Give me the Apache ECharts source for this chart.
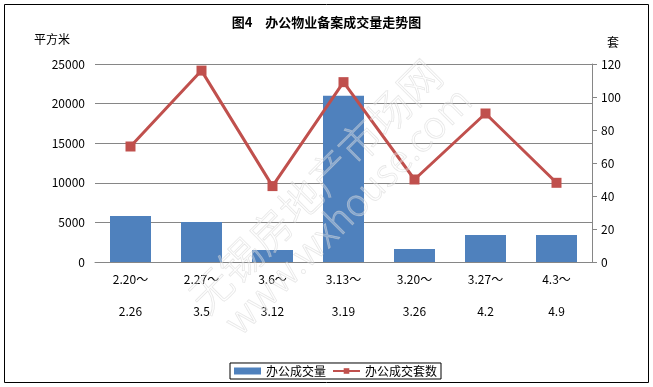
<!DOCTYPE html>
<html><head><meta charset="utf-8">
<script src="https://cdn.jsdelivr.net/npm/echarts@6/dist/echarts.min.js"></script>
<style>html,body{margin:0;padding:0;background:#fff}#c{width:653px;height:387px}</style>
</head><body><div id="c"></div>
<script>
const categories = ['2.20～\n2.26','2.27～\n3.5','3.6～\n3.12','3.13～\n3.19','3.20～\n3.26','3.27～\n4.2','4.3～\n4.9'];
const areaValues = [5800, 5050, 1520, 21000, 1650, 3400, 3400];
const countValues = [70, 116, 46, 109, 50, 90, 48];
const leftTicks = {min: 0, max: 25000, interval: 5000};
const rightTicks = {min: 0, max: 120, interval: 20};
const FONT = '"Noto Sans CJK SC", "DejaVu Sans", sans-serif';
const chart = echarts.init(document.getElementById('c'));
chart.setOption({
  animation: false,
  textStyle: {fontFamily: FONT},
  title: {text: '图4　办公物业备案成交量走势图', left: 'center', top: 11,
    textStyle: {fontSize: 13, fontWeight: 'bold', color: '#000', fontFamily: FONT}},
  grid: {left: 95, right: 61, top: 64, bottom: 125, containLabel: false},
  legend: {bottom: 8, left: 230, borderColor: '#000', borderWidth: 1, padding: [2, 4, 2, 4],
    itemGap: 6, itemWidth: 27, itemHeight: 7,
    textStyle: {fontSize: 12, color: '#000', fontFamily: FONT},
    data: [{name: '办公成交量', icon: 'rect'}, {name: '办公成交套数'}]},
  xAxis: {type: 'category', data: categories,
    axisLine: {lineStyle: {color: '#868686'}}, axisTick: {show: false},
    axisLabel: {color: '#000', fontSize: 12, lineHeight: 32, margin: 1, interval: 0}},
  yAxis: [
    {type: 'value', min: leftTicks.min, max: leftTicks.max, interval: leftTicks.interval,
      axisLine: {show: false}, axisTick: {show: false},
      axisLabel: {color: '#000', fontSize: 12, margin: 10, formatter: v => String(v)},
      splitLine: {lineStyle: {color: '#868686'}}},
    {type: 'value', min: rightTicks.min, max: rightTicks.max, interval: rightTicks.interval, position: 'right',
      axisLine: {show: true, lineStyle: {color: '#868686'}},
      axisTick: {show: true, length: 5, lineStyle: {color: '#868686'}},
      axisLabel: {color: '#000', fontSize: 12, margin: 9},
      splitLine: {show: false}}
  ],
  series: [
    {name: '办公成交量', type: 'bar', data: areaValues, barWidth: 41, yAxisIndex: 0,
      itemStyle: {color: '#4F81BD'}},
    {name: '办公成交套数', type: 'line', data: countValues, yAxisIndex: 1,
      symbol: 'rect', symbolSize: 10, lineStyle: {color: '#C0504D', width: 3},
      itemStyle: {color: '#C0504D'}}
  ],
  graphic: [
    {type: 'rect', shape: {x: 4.5, y: 4.5, width: 644, height: 378}, style: {fill: 'none', stroke: '#000', lineWidth: 1}, z: 100},
    {type: 'text', left: 34, top: 33, style: {text: '平方米', fill: '#000', font: '12px ' + FONT}},
    {type: 'text', left: 607, top: 36, style: {text: '套', fill: '#000', font: '12px ' + FONT}},
    {type: 'text', x: 315, y: 186, rotation: Math.PI / 4, z: 50, silent: true,
      style: {text: '无锡房地产市场网', font: '300 42px ' + FONT, fill: 'rgba(255,255,255,0.3)', stroke: 'rgba(200,200,200,0.5)', lineWidth: 0.8, align: 'center', verticalAlign: 'middle'}},
    {type: 'text', x: 347, y: 210, rotation: Math.PI / 4, z: 50, silent: true,
      style: {text: 'www.wxhouse.com', font: '300 38px ' + FONT, fill: 'rgba(255,255,255,0.3)', stroke: 'rgba(200,200,200,0.5)', lineWidth: 0.8, align: 'center', verticalAlign: 'middle'}}
  ]
});
</script></body></html>
